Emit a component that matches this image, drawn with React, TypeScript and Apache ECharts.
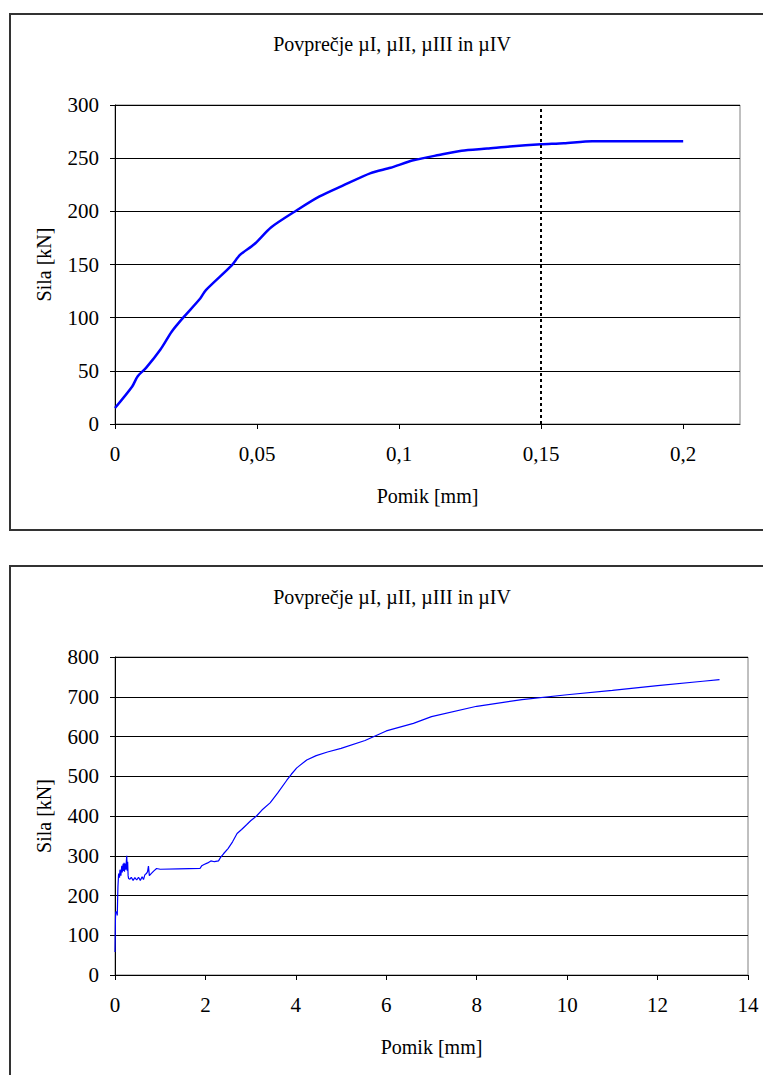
import React, { useEffect, useRef } from "react";
import * as echarts from "echarts";

const TITLE = "Povprečje µI, µII, µIII in µIV";
const X_NAME = "Pomik [mm]";
const Y_NAME = "Sila [kN]";

// Chart 1 (small displacement range)
const x1 = [0, 0.006, 0.008, 0.011, 0.016, 0.02, 0.024, 0.03, 0.032, 0.041, 0.044, 0.049, 0.055, 0.064, 0.072, 0.08, 0.09, 0.097, 0.105, 0.114, 0.122, 0.131, 0.139, 0.15, 0.158, 0.168, 0.2];
const y1 = [15, 35, 45, 53, 70, 87, 100, 118, 126, 149, 159, 169, 185, 201, 214, 224, 236, 241, 248, 253, 257, 259, 261, 263, 264, 266, 266];
const xTicks1 = [0, 0.05, 0.1, 0.15, 0.2];
const marker1 = 0.15;

// Chart 2 (full displacement range)
const x2 = [0, 0.01, 0.015, 0.03, 0.04, 0.05, 0.06, 0.065, 0.08, 0.1, 0.11, 0.13, 0.15, 0.16, 0.18, 0.19, 0.2, 0.21, 0.22, 0.24, 0.25, 0.26, 0.27, 0.28, 0.29, 0.3, 0.33, 0.36, 0.4, 0.44, 0.48, 0.52, 0.56, 0.6, 0.63, 0.66, 0.7, 0.72, 0.74, 0.76, 0.8, 0.86, 0.92, 1.0, 1.4, 1.88, 1.92, 1.97, 2.05, 2.12, 2.2, 2.29, 2.33, 2.4, 2.5, 2.6, 2.7, 2.8, 2.91, 3.0, 3.13, 3.25, 3.43, 3.6, 3.8, 3.9, 4.02, 4.24, 4.45, 4.7, 5.0, 5.53, 6.0, 6.6, 7.0, 8.0, 9.0, 10.0, 11.0, 12.0, 13.0, 13.37];
const y2 = [58, 140, 160, 155, 160, 150, 200, 222, 255, 245, 265, 250, 275, 258, 280, 262, 282, 260, 280, 265, 285, 300, 262, 285, 250, 243, 241, 246, 238, 245, 239, 246, 238, 247, 240, 252, 256, 260, 274, 250, 255, 262, 268, 266, 267, 268, 275, 278, 282, 287, 285, 287, 295, 305, 318, 335, 356, 366, 378, 388, 400, 415, 433, 458, 490, 505, 521, 541, 552, 561, 570, 590, 614, 633, 650, 676, 693, 705, 716, 728, 739, 743];

const FONT = "'Liberation Serif', 'Times New Roman', serif";
const BLUE = "#0000FF";

function fmt(v: number) {
  return String(+v.toFixed(3)).replace(".", ",");
}

export default function App() {
  const ref = useRef<HTMLDivElement>(null);
  useEffect(() => {
    if (!ref.current) return;
    const chart = echarts.init(ref.current, null, { renderer: "svg" });
    const axisCommon = {
      axisLine: { show: true, lineStyle: { color: "#000", width: 1 } },
      axisTick: { show: true, inside: false, length: 5, lineStyle: { color: "#000" } },
      nameLocation: "middle",
      nameTextStyle: { fontFamily: FONT, fontSize: 20, color: "#000" },
    };
    const xAxisCommon = {
      ...axisCommon,
      type: "value",
      name: X_NAME,
      nameGap: 62,
      splitLine: { show: false },
      axisLabel: { fontFamily: FONT, fontSize: 21, color: "#000", margin: 19, formatter: (v: number) => fmt(v) },
    };
    const yAxisCommon = {
      ...axisCommon,
      type: "value",
      name: Y_NAME,
      nameGap: 61,
      splitLine: { show: true, lineStyle: { color: "#000", width: 1 } },
      axisLabel: { fontFamily: FONT, fontSize: 21, color: "#000", margin: 16 },
    };
    chart.setOption({
      animation: false,
      backgroundColor: "#fff",
      textStyle: { fontFamily: FONT },
      graphic: [
        { type: "rect", shape: { x: 10, y: 14, width: 800, height: 516 }, style: { fill: "none", stroke: "#333", lineWidth: 2 }, z: 100 },
        { type: "rect", shape: { x: 10, y: 566, width: 800, height: 600 }, style: { fill: "none", stroke: "#333", lineWidth: 2 }, z: 100 },
        { type: "text", x: 392, y: 44, style: { text: TITLE, fontFamily: FONT, fontSize: 20, fill: "#000", align: "center", verticalAlign: "middle" } },
        { type: "text", x: 392, y: 597, style: { text: TITLE, fontFamily: FONT, fontSize: 20, fill: "#000", align: "center", verticalAlign: "middle" } },
      ],
      grid: [
        { left: 115, top: 105, width: 625, height: 319, show: true, borderColor: "#808080", borderWidth: 1, backgroundColor: "transparent" },
        { left: 115, top: 657, width: 633, height: 318, show: true, borderColor: "#808080", borderWidth: 1, backgroundColor: "transparent" },
      ],
      xAxis: [
        {
          ...xAxisCommon,
          gridIndex: 0,
          min: 0,
          max: 0.22,
          interval: 0.05,
          axisTick: { ...axisCommon.axisTick, customValues: xTicks1 },
          axisLabel: { ...xAxisCommon.axisLabel, customValues: xTicks1 },
        },
        { ...xAxisCommon, gridIndex: 1, min: 0, max: 14, interval: 2 },
      ],
      yAxis: [
        { ...yAxisCommon, gridIndex: 0, min: 0, max: 300, interval: 50 },
        { ...yAxisCommon, gridIndex: 1, min: 0, max: 800, interval: 100 },
      ],
      series: [
        {
          type: "line",
          xAxisIndex: 0,
          yAxisIndex: 0,
          data: x1.map((x, i) => [x, y1[i]]),
          showSymbol: false,
          symbol: "none",
          smooth: 0.25,
          lineStyle: { color: BLUE, width: 2.5 },
          markLine: {
            silent: true,
            symbol: "none",
            label: { show: false },
            lineStyle: { color: "#000", width: 2, type: [3, 3] },
            data: [{ xAxis: marker1 }],
          },
        },
        {
          type: "line",
          xAxisIndex: 1,
          yAxisIndex: 1,
          data: x2.map((x, i) => [x, y2[i]]),
          showSymbol: false,
          symbol: "none",
          lineStyle: { color: BLUE, width: 1.2 },
        },
      ],
    });
    return () => chart.dispose();
  }, []);
  return <div ref={ref} style={{ position: "absolute", left: 0, top: 0, width: 763, height: 1075 }} />;
}
